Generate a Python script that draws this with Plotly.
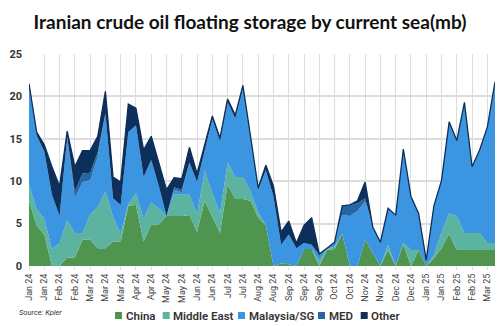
import plotly.graph_objects as go

tick_labels = ["Jan 24","Jan 24","Feb 24","Feb 24","Mar 24","Mar 24","Mar 24","Apr 24","Apr 24",
               "May 24","May 24","Jun 24","Jun 24","Jul 24","Jul 24","Aug 24","Aug 24","Sep 24",
               "Sep 24","Sep 24","Oct 24","Oct 24","Nov 24","Nov 24","Dec 24","Dec 24","Jan 25",
               "Jan 25","Feb 25","Feb 25","Mar 25"]

china = [7.7,4.8,3.7,0,0,1.0,1.0,3.1,3.1,2.1,
         2.1,2.9,2.9,7.1,7.2,2.9,4.9,4.9,5.9,5.9,
         5.9,6.0,4.0,7.7,5.8,3.9,9.6,7.9,7.9,7.7,
         5.7,4.8,0,0.3,0.2,0,2.0,2.0,0,1.9,
         2.0,3.8,0,0,3.1,1.6,0,1.9,0,2.6,
         0,1.9,0,0.9,2.1,3.8,1.9,1.9,1.9,1.9,
         1.9,1.9]
middle_east = [1.9,1.9,1.9,2.0,2.7,4.4,2.9,0.8,2.9,4.9,
               6.7,2.9,0.9,0.2,1.4,2.7,2.6,1.9,0,2.6,
               2.5,2.4,2.1,3.5,2.8,2.3,2.6,2.6,2.6,1.1,
               0.6,0,0,0,0,0,0,0,0.6,0.1,
               0.3,0,0,0,0,0,0,0.6,0,0.1,
               1.9,0,0,0.4,1.9,2.4,4.0,2.0,2.0,2.0,
               0.8,0.8]
malaysia_sg = [11.7,8.7,7.9,6.4,3.2,9.8,4.1,6.0,4.1,5.9,
               9.2,2.2,3.4,8.5,8.0,4.9,5.0,2.6,0,0.5,
               0.3,3.8,3.8,2.5,8.7,8.5,7.1,6.9,10.5,6.2,
               2.7,6.5,8.2,2.2,3.5,2.1,0.7,0.5,0.7,0.1,
               0.5,2.2,5.9,6.5,4.5,3.0,2.8,4.3,6.0,11.1,
               6.3,4.3,0.7,5.8,6.1,10.8,8.9,15.4,7.8,9.8,
               13.7,19.0]
med = [0,0,0,0,0,0,0.8,1.0,0.9,0.5,
       0,0,0,0,0,0,0,0,0,0.3,
       0.3,0,0,0,0,0,0,0,0,0,
       0,0,0,0,0,0,0,0,0,0,
       0,1.1,1.3,0.9,0.4,0,0,0,0,0,
       0,0,0,0,0,0,0,0,0,0,
       0,0]
other = [0.2,0.4,0.8,3.3,3.5,0.7,2.9,2.7,2.6,1.9,
         2.6,2.5,2.7,3.3,2.0,3.2,2.8,2.7,3.1,1.1,
         1.3,1.8,1.0,0.6,0.4,0.4,0.4,0.4,0.3,0.3,
         0.2,0.6,1.2,1.5,1.6,0.6,2.1,3.2,0.1,0,
         0,0,0,0.3,1.9,0,0,0,0,0,
         0,0,0,0,0,0,0,0,0,0,
         0,0]

series_names = ["China", "Middle East", "Malaysia/SG", "MED", "Other"]
series_values = [china, middle_east, malaysia_sg, med, other]
series_colors = ["#4f9550", "#5cb3a0", "#3b95e0", "#2566a3", "#0c2f5c"]

x = list(range(len(china)))

fig = go.Figure()
for name, vals, col in zip(series_names, series_values, series_colors):
    is_top = name == "Other"
    fig.add_trace(go.Scatter(
        x=x, y=vals, name=name, mode="lines", stackgroup="one",
        fillcolor=col, showlegend=False,
        line=dict(color="#0c2f5c" if is_top else col, width=1.3 if is_top else 0),
        hoverinfo="skip",
    ))

# plot area geometry (pixels) for legend placement
L, R, T, B = 29, 495, 54, 266
def px(xp):
    return (xp - L) / (R - L)
def py(yp):
    return (B - yp) / (B - T)

legend_sq_x = [115, 162.7, 238, 318, 360.7]
legend_y = 315.5
for nm, col, sx in zip(series_names, series_colors, legend_sq_x):
    fig.add_shape(type="rect", xref="paper", yref="paper",
                  x0=px(sx), x1=px(sx + 7), y0=py(legend_y - 3.5), y1=py(legend_y + 3.5),
                  fillcolor=col, line=dict(width=0))
    fig.add_annotation(text=nm, xref="paper", yref="paper", x=px(sx + 8.5), y=py(legend_y),
                       xanchor="left", yanchor="middle", showarrow=False,
                       font=dict(family="Roboto", size=11.5, color="#333333", weight=600))

fig.update_layout(
    width=500, height=326,
    margin=dict(l=L, r=500 - R, t=T, b=326 - B, autoexpand=False),
    paper_bgcolor="white", plot_bgcolor="white",
    title=dict(text="<b>Iranian crude oil floating storage by current sea(mb)</b>",
               x=0.5, xanchor="center", y=1 - 22 / 326, yanchor="middle",
               font=dict(family="Lato", size=19, color="#111111")),
    showlegend=False,
    font=dict(family="Roboto"),
)
fig.update_xaxes(
    range=[0, 61], tickmode="array",
    tickvals=[2 * k for k in range(len(tick_labels))], ticktext=tick_labels,
    tickangle=-90, tickfont=dict(family="Roboto", size=9, color="#444444"),
    showgrid=True, gridcolor="#dddddd", gridwidth=1, automargin=False,
    zeroline=False, showline=False, ticks="outside", ticklen=3, tickcolor="#dddddd",
)
fig.update_yaxes(
    range=[0, 25], tickvals=[0, 5, 10, 15, 20, 25], automargin=False,
    tickfont=dict(family="Roboto", size=11, color="#333333", weight="bold"),
    showgrid=True, gridcolor="#dddddd", gridwidth=1.5, zeroline=False, showline=False,
    ticklabelstandoff=6,
)
fig.add_annotation(text="<i>Source: Kpler</i>", xref="paper", yref="paper",
                   x=px(17), y=py(312.5), xanchor="left", yanchor="middle", showarrow=False,
                   font=dict(family="Roboto", size=7.5, color="#333333"))
fig.write_html("out.html")
